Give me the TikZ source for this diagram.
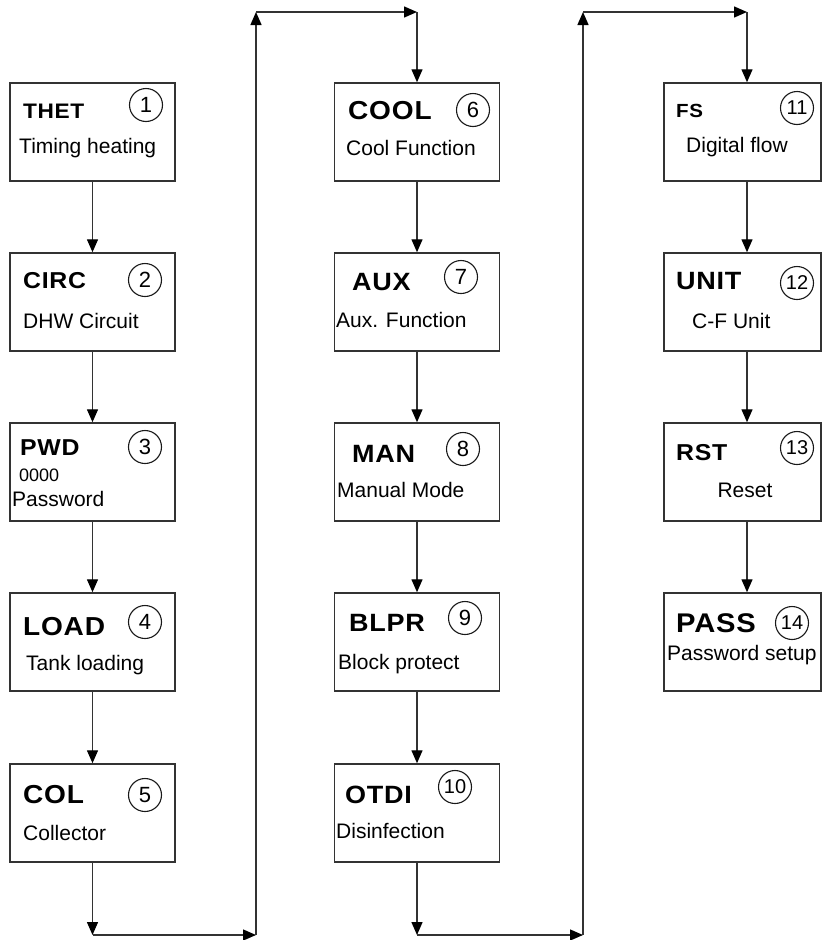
\documentclass[tikz,border=0pt]{standalone}
\usepackage{fontspec}
\setmainfont{Liberation Sans}
\newfontfamily\hfont[LetterSpace=3,FakeStretch=1.08]{Liberation Sans Bold}
\usetikzlibrary{arrows.meta}
\begin{document}
\begin{tikzpicture}[x=1pt,y=-1pt,
 box/.style={draw=black!80,line width=1.5pt,minimum height=98pt,inner sep=0pt},
 boxa/.style={box,minimum width=165pt},
 boxc/.style={box,minimum width=157pt},
 head/.style={anchor=base west,inner sep=0pt,font=\hfont\fontsize{#1}{#1}\selectfont},
 sub/.style={anchor=base west,inner sep=0pt,font=\fontsize{21}{21}\selectfont},
 num/.style={circle,draw=black!90,line width=1.1pt,minimum size=33pt,inner sep=0pt,font=\fontsize{22}{22}\selectfont},
 numb/.style={num,font=\fontsize{20}{20}\selectfont},
 arr/.style={draw=black!80,line width=1.4pt,-{Triangle[length=13pt,width=11pt,fill=black,color=black]}},
]
\useasboundingbox[fill=white] (0,0) rectangle (822,940);
% column 1
\node[boxa] (b1) at (92.5,132) {};
\node[boxa] (b2) at (92.5,302) {};
\node[boxa] (b3) at (92.5,472) {};
\node[boxa] (b4) at (92.5,642) {};
\node[boxa] (b5) at (92.5,813) {};
% column 2
\node[boxa] (b6) at (417,132) {};
\node[boxa] (b7) at (417,302) {};
\node[boxa] (b8) at (417,472) {};
\node[boxa] (b9) at (417,642) {};
\node[boxa] (b10) at (417,813) {};
% column 3
\node[boxc] (b11) at (742.5,132) {};
\node[boxc] (b12) at (742.5,302) {};
\node[boxc] (b13) at (742.5,472) {};
\node[boxc] (b14) at (742.5,642) {};

% headings
\node[head=21] (h1) at (23,118) {THET};
\node[head=23] (h2) at (23,288) {CIRC};
\node[head=23] (h3) at (20,455) {PWD};
\node[head=26] (h4) at (23,635) {LOAD};
\node[head=26] (h5) at (23,803) {COL};
\node[head=26] (h6) at (348,119) {COOL};
\node[head=25] (h7) at (352,290) {AUX};
\node[head=25] (h8) at (352,462) {MAN};
\node[head=25] (h9) at (349,631) {BLPR};
\node[head=25] (h10) at (345,803) {OTDI};
\node[head=19] (h11) at (676,117) {FS};
\node[head=25] (h12) at (676,289) {UNIT};
\node[head=23] (h13) at (676,460) {RST};
\node[head=27] (h14) at (676,632) {PASS};

% numbers
\node[num] (c1) at (146,105) {1};
\node[num] (c2) at (145,280) {2};
\node[num] (c3) at (145,447) {3};
\node[num] (c4) at (145,622) {4};
\node[num] (c5) at (145,795) {5};
\node[num] (c6) at (473,110) {6};
\node[num] (c7) at (461,277) {7};
\node[num] (c8) at (463,449) {8};
\node[num] (c9) at (465,618) {9};
\node[numb] (c10) at (455,787) {10};
\node[numb] (c11) at (797,108) {11};
\node[numb] (c12) at (797,283) {12};
\node[numb] (c13) at (797,448) {13};
\node[numb] (c14) at (792,623) {14};

% sub texts
\node[sub] (s1) at (19,153) {Timing heating};
\node[sub] (s2) at (23,328) {DHW Circuit};
\node[anchor=base west,inner sep=0pt,font=\fontsize{18}{18}\selectfont] (s3a) at (19,481) {0000};
\node[sub] (s3) at (12,506) {Password};
\node[sub] (s4) at (26,670) {Tank loading};
\node[sub] (s5) at (23,840) {Collector};
\node[sub] (s6) at (346,155) {Cool Function};
\node[sub] (s7) at (336,327) {Aux. Function};
\node[sub] (s8) at (337,497) {Manual Mode};
\node[sub] (s9) at (338,669) {Block protect};
\node[sub] (s10) at (336,838) {Disinfection};
\node[sub] (s11) at (686,152) {Digital flow};
\node[sub] (s12) at (692,328) {C-F Unit};
\node[sub,anchor=base] (s13) at (745,497) {Reset};
\node[sub] (s14) at (667,660) {Password setup};

% loop coordinates
\coordinate (p1) at (92.5,935);
\coordinate (p2) at (256,935);
\coordinate (p3) at (256,12);
\coordinate (p4) at (417,12);
\coordinate (q1) at (417,935);
\coordinate (q2) at (583,935);
\coordinate (q3) at (583,12);
\coordinate (q4) at (747,12);

% column 1 connectors
\draw[arr] (b1) -- (b2);
\draw[arr] (b2) -- (b3);
\draw[arr] (b3) -- (b4);
\draw[arr] (b4) -- (b5);
\draw[arr] (b5) -- (p1);
\draw[arr] (p1) -- (p2);
\draw[arr] (p2) -- (p3);
\draw[arr] (p3) -- (p4);
\draw[arr] (p4) -- (b6);
% column 2 connectors
\draw[arr] (b6) -- (b7);
\draw[arr] (b7) -- (b8);
\draw[arr] (b8) -- (b9);
\draw[arr] (b9) -- (b10);
\draw[arr] (b10) -- (q1);
\draw[arr] (q1) -- (q2);
\draw[arr] (q2) -- (q3);
\draw[arr] (q3) -- (q4);
\draw[arr] (q4) -- (q4 |- b11.north);
% column 3 connectors
\draw[arr] (q4 |- b11.south) -- (q4 |- b12.north);
\draw[arr] (q4 |- b12.south) -- (q4 |- b13.north);
\draw[arr] (q4 |- b13.south) -- (q4 |- b14.north);
\end{tikzpicture}
\end{document}
